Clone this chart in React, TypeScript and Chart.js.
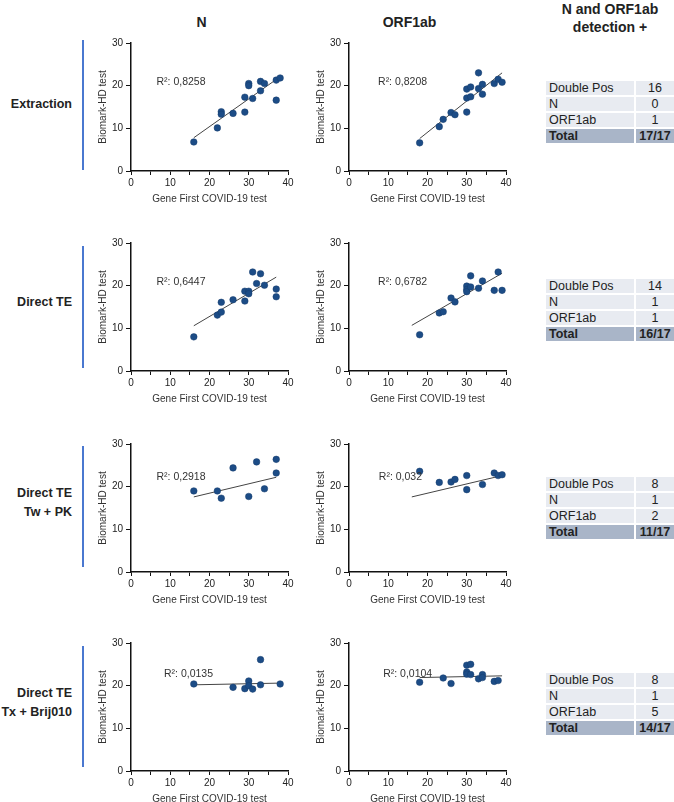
import React, { useEffect, useRef } from 'react';
import { Chart, registerables } from 'chart.js';
Chart.register(...registerables);

// ---------------- DATA ----------------
const columnHeaders = ['N', 'ORF1ab'];
const summaryHeader = ['N and ORF1ab', 'detection +'];
const rowLabels = [['Extraction'], ['Direct TE'], ['Direct TE', 'Tw + PK'], ['Direct TE', 'Tx + Brij010']];
const xAxisTitle = 'Gene First COVID-19 test';
const yAxisTitle = 'Biomark-HD test';
const xTickValues = [0, 10, 20, 30, 40];
const yTickValues = [0, 10, 20, 30];

// Extraction
const nExtractionX = [16, 22, 23, 23, 26, 29, 29, 30, 30, 31, 33, 33, 34, 37, 37, 38];
const nExtractionY = [6.8, 10.1, 13.9, 13.3, 13.5, 13.8, 17.3, 20.5, 20.0, 17.0, 21.0, 18.8, 20.5, 21.3, 16.6, 21.8];
const nExtractionFitX = [16, 38];
const nExtractionFitY = [7.8, 22.1];
const nExtractionR2 = '0,8258';

const orfExtractionX = [18, 23, 24, 26, 27, 30, 30, 30, 31, 31, 33, 33, 34, 34, 37, 38, 39];
const orfExtractionY = [6.6, 10.4, 12.1, 13.7, 13.2, 19.2, 17.1, 13.8, 19.7, 17.4, 19.3, 23.0, 18.0, 20.3, 20.5, 21.5, 20.8];
const orfExtractionFitX = [18, 39];
const orfExtractionFitY = [7.6, 23.0];
const orfExtractionR2 = '0,8208';

// Direct TE
const nDirectX = [16, 22, 23, 23, 26, 29, 29, 30, 30, 31, 32, 33, 34, 37, 37];
const nDirectY = [8.0, 13.1, 13.8, 16.1, 16.7, 18.7, 16.4, 18.7, 18.1, 23.2, 20.5, 22.8, 20.1, 19.2, 17.4];
const nDirectFitX = [16, 37];
const nDirectFitY = [10.6, 22.0];
const nDirectR2 = '0,6447';

const orfDirectX = [18, 23, 24, 26, 27, 30, 30, 30, 31, 31, 33, 34, 37, 38, 39];
const orfDirectY = [8.5, 13.6, 13.9, 17.1, 16.2, 19.9, 19.1, 18.6, 22.3, 19.7, 19.4, 21.1, 18.9, 23.2, 18.9];
const orfDirectFitX = [16, 39];
const orfDirectFitY = [10.7, 22.9];
const orfDirectR2 = '0,6782';

// Direct TE Tw + PK
const nTwX = [16, 22, 23, 26, 30, 32, 34, 37, 37];
const nTwY = [19.0, 19.0, 17.3, 24.4, 17.7, 25.8, 19.5, 26.4, 23.2];
const nTwFitX = [16, 37];
const nTwFitY = [17.6, 22.2];
const nTwR2 = '0,2918';

const orfTwX = [18, 23, 26, 27, 30, 30, 34, 37, 38, 39];
const orfTwY = [23.6, 21.0, 21.1, 21.7, 22.6, 19.3, 20.5, 23.2, 22.6, 22.8];
const orfTwFitX = [16, 39];
const orfTwFitY = [17.6, 22.6];
const orfTwR2 = '0,032';

// Direct TE Tx + Brij010
const nBrijX = [16, 26, 29, 30, 30, 31, 33, 33, 38];
const nBrijY = [20.4, 19.6, 19.3, 21.1, 20.0, 19.2, 26.1, 20.2, 20.4];
const nBrijFitX = [16, 38];
const nBrijFitY = [20.2, 20.6];
const nBrijR2 = '0,0135';

const orfBrijX = [18, 24, 26, 30, 30, 30, 31, 31, 33, 34, 34, 37, 38];
const orfBrijY = [20.8, 21.8, 20.5, 24.8, 23.2, 22.7, 25.0, 22.6, 21.6, 22.6, 21.9, 21.0, 21.2];
const orfBrijFitX = [18, 39];
const orfBrijFitY = [21.9, 22.3];
const orfBrijR2 = '0,0104';

// Summary tables
const tableCategories = ['Double Pos', 'N', 'ORF1ab'];
const tableTotalLabel = 'Total';
const extractionCounts = [16, 0, 1];
const directCounts = [14, 1, 1];
const twCounts = [8, 1, 2];
const brijCounts = [8, 1, 5];
const totals = ['17/17', '16/17', '11/17', '14/17'];

// ---------------- LAYOUT ----------------
const FONT = "Arial, 'Liberation Sans', Helvetica, sans-serif";
const POINT_COLOR = '#1c4c86';
const AXIS_LEFT = [131, 349];
const ROW_TOP = [43, 243, 444, 643];
const PLOT_W = 157;
const PLOT_H = 128;
const PAD_L = 50;
const PAD_T = 10;
const PAD_R = 14;
const PAD_B = 40;
const CANVAS_W = PAD_L + PLOT_W + PAD_R;
const CANVAS_H = PAD_T + PLOT_H + PAD_B;

type Panel = { x: number[]; y: number[]; fx: number[]; fy: number[]; r2: string; lx: number; ly: number };

const panels: Panel[][] = [
  [
    { x: nExtractionX, y: nExtractionY, fx: nExtractionFitX, fy: nExtractionFitY, r2: nExtractionR2, lx: 6.5, ly: 20.8 },
    { x: orfExtractionX, y: orfExtractionY, fx: orfExtractionFitX, fy: orfExtractionFitY, r2: orfExtractionR2, lx: 7.4, ly: 20.8 },
  ],
  [
    { x: nDirectX, y: nDirectY, fx: nDirectFitX, fy: nDirectFitY, r2: nDirectR2, lx: 6.5, ly: 20.8 },
    { x: orfDirectX, y: orfDirectY, fx: orfDirectFitX, fy: orfDirectFitY, r2: orfDirectR2, lx: 7.4, ly: 20.8 },
  ],
  [
    { x: nTwX, y: nTwY, fx: nTwFitX, fy: nTwFitY, r2: nTwR2, lx: 6.5, ly: 22.2 },
    { x: orfTwX, y: orfTwY, fx: orfTwFitX, fy: orfTwFitY, r2: orfTwR2, lx: 7.6, ly: 22.3 },
  ],
  [
    { x: nBrijX, y: nBrijY, fx: nBrijFitX, fy: nBrijFitY, r2: nBrijR2, lx: 8.4, ly: 22.7 },
    { x: orfBrijX, y: orfBrijY, fx: orfBrijFitX, fy: orfBrijFitY, r2: orfBrijR2, lx: 8.7, ly: 22.7 },
  ],
];

const tableCounts = [extractionCounts, directCounts, twCounts, brijCounts];
const TABLE_TOP = [81, 279, 477, 673];
const BLUE_LINES = [[40, 170], [246, 368], [446, 567], [646, 767]];
const ROW_LABEL_Y = [104, 302, 503, 703];

function ScatterPanel({ p, left, top }: { p: Panel; left: number; top: number }) {
  const ref = useRef<HTMLCanvasElement>(null);
  useEffect(() => {
    const canvas = ref.current;
    if (!canvas) return;
    const r2Plugin = {
      id: 'r2label',
      afterDatasetsDraw(chart: any) {
        const { ctx, scales } = chart;
        const px = scales.x.getPixelForValue(p.lx);
        const py = scales.y.getPixelForValue(p.ly);
        ctx.save();
        ctx.font = `10.5px ${FONT}`;
        ctx.fillStyle = '#333';
        ctx.textAlign = 'left';
        ctx.textBaseline = 'middle';
        ctx.fillText(`R\u00B2: ${p.r2}`, px, py);
        ctx.restore();
      },
    };
    const chart = new Chart(canvas, {
      type: 'scatter',
      data: {
        datasets: [
          {
            type: 'scatter',
            data: p.x.map((v, i) => ({ x: v, y: p.y[i] })),
            backgroundColor: POINT_COLOR,
            borderColor: '#163d6d',
            borderWidth: 0.5,
            pointRadius: 3.3,
            pointHoverRadius: 3.3,
            order: 0,
          },
          {
            type: 'line',
            data: p.fx.map((v, i) => ({ x: v, y: p.fy[i] })),
            borderColor: '#444',
            borderWidth: 1,
            pointRadius: 0,
            fill: false,
            order: 1,
          } as any,
        ],
      },
      plugins: [r2Plugin],
      options: {
        responsive: false,
        animation: false,
        devicePixelRatio: 1,
        layout: { padding: { left: 0, top: PAD_T, right: PAD_R, bottom: 0 } },
        plugins: { legend: { display: false }, tooltip: { enabled: false } },
        events: [],
        scales: {
          x: {
            type: 'linear',
            min: 0,
            max: 40,
            afterFit: (s: any) => { s.height = PAD_B; },
            afterBuildTicks: (s: any) => {
              const arr: any[] = [];
              for (let v = 0; v <= 40; v += 5) arr.push({ value: v });
              s.ticks = arr;
            },
            ticks: {
              autoSkip: false,
              maxRotation: 0,
              padding: 2,
              color: '#222',
              font: { family: FONT, size: 10 },
              callback: (v: any) => (xTickValues.includes(Number(v)) ? String(v) : ''),
            },
            grid: { display: true, drawOnChartArea: false, drawTicks: true, tickLength: 4, color: '#111', lineWidth: 1 },
            border: { display: true, color: '#111', width: 1.5 },
            title: { display: true, text: xAxisTitle, color: '#333', font: { family: FONT, size: 10 }, padding: { top: 0, bottom: 6 } },
          },
          y: {
            type: 'linear',
            min: 0,
            max: 30,
            afterFit: (s: any) => { s.width = PAD_L; },
            afterBuildTicks: (s: any) => { s.ticks = yTickValues.map((v) => ({ value: v })); },
            ticks: { padding: 3, color: '#222', font: { family: FONT, size: 10 } },
            grid: { display: true, drawOnChartArea: false, drawTicks: true, tickLength: 5, color: '#111', lineWidth: 1 },
            border: { display: true, color: '#111', width: 1.5 },
            title: { display: true, text: yAxisTitle, color: '#333', font: { family: FONT, size: 10 }, padding: { top: 16.5, bottom: 0 } },
          },
        },
      } as any,
    });
    return () => chart.destroy();
  }, [p]);
  return (
    <canvas
      ref={ref}
      width={CANVAS_W}
      height={CANVAS_H}
      style={{ position: 'absolute', left, top, width: CANVAS_W, height: CANVAS_H }}
    />
  );
}

function SummaryTable({ counts, total, top }: { counts: number[]; total: string; top: number }) {
  const light = '#e8ebf1';
  const dark = '#a9b5c8';
  const cell = (bg: string, bold: boolean, align: 'left' | 'center', text: string, key: string) => (
    <div
      key={key}
      style={{
        background: bg,
        fontWeight: bold ? 700 : 400,
        textAlign: align,
        paddingLeft: align === 'left' ? 3 : 0,
        height: 14,
        lineHeight: '15px',
        fontSize: 12.5,
        color: '#222',
        whiteSpace: 'nowrap',
      }}
    >
      {text}
    </div>
  );
  const items: any[] = [];
  tableCategories.forEach((c, i) => {
    items.push(cell(light, false, 'left', c, 'l' + i));
    items.push(cell(light, false, 'center', String(counts[i]), 'v' + i));
  });
  items.push(cell(dark, true, 'left', tableTotalLabel, 'lt'));
  items.push(cell(dark, true, 'center', total, 'vt'));
  return (
    <div
      style={{
        position: 'absolute',
        left: 546,
        top,
        width: 128,
        display: 'grid',
        gridTemplateColumns: '88px 38px',
        columnGap: 2,
        rowGap: 2,
        fontFamily: FONT,
      }}
    >
      {items}
    </div>
  );
}

export default function App() {
  useEffect(() => {
    document.body.style.margin = '0';
  }, []);
  const centered = (x: number, y: number, text: string, style: any, key: string) => (
    <div
      key={key}
      style={{
        position: 'absolute',
        left: x,
        top: y,
        transform: 'translate(-50%, -50%)',
        whiteSpace: 'nowrap',
        fontFamily: FONT,
        ...style,
      }}
    >
      {text}
    </div>
  );
  return (
    <div style={{ position: 'absolute', left: 0, top: 0, width: 674, height: 802, background: '#fff', overflow: 'hidden' }}>
      {centered(AXIS_LEFT[0] + PLOT_W / 2 - 8, 22, columnHeaders[0], { fontWeight: 700, fontSize: 14, color: '#222' }, 'h0')}
      {centered(AXIS_LEFT[1] + PLOT_W / 2 - 18, 22, columnHeaders[1], { fontWeight: 700, fontSize: 14, color: '#222' }, 'h1')}
      {centered(610, 9, summaryHeader[0], { fontWeight: 700, fontSize: 14, color: '#222' }, 'h2')}
      {centered(610, 27, summaryHeader[1], { fontWeight: 700, fontSize: 14, color: '#222' }, 'h3')}
      {rowLabels.map((lines, r) => (
        <div
          key={'rl' + r}
          style={{
            position: 'absolute',
            left: 0,
            width: 72,
            top: ROW_LABEL_Y[r] - (lines.length * 19) / 2,
            textAlign: 'right',
            fontFamily: FONT,
            fontWeight: 700,
            fontSize: 12.5,
            lineHeight: '19px',
            color: '#222',
            whiteSpace: 'nowrap',
          }}
        >
          {lines.map((l, i) => (
            <div key={i}>{l}</div>
          ))}
        </div>
      ))}
      {BLUE_LINES.map(([a, b], r) => (
        <div key={'bl' + r} style={{ position: 'absolute', left: 82, top: a, width: 2, height: b - a, background: '#4a78d0' }} />
      ))}
      {panels.map((row, r) =>
        row.map((p, c) => (
          <ScatterPanel key={`p${r}${c}`} p={p} left={AXIS_LEFT[c] - PAD_L} top={ROW_TOP[r] - PAD_T} />
        ))
      )}
      {tableCounts.map((counts, r) => (
        <SummaryTable key={'t' + r} counts={counts} total={totals[r]} top={TABLE_TOP[r]} />
      ))}
    </div>
  );
}
